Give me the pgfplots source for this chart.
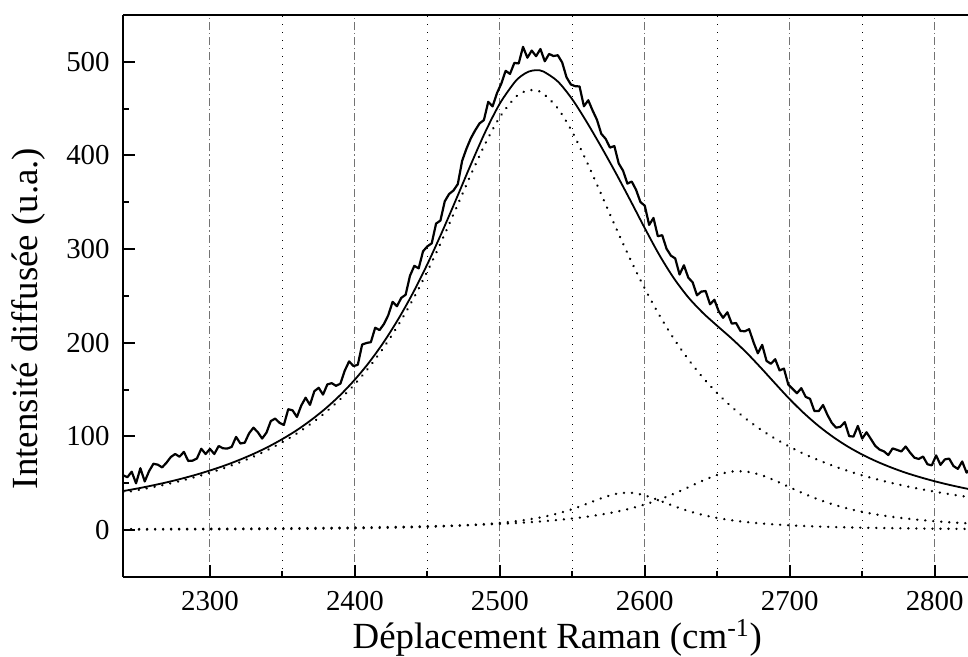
\documentclass[border=0pt]{standalone}
\usepackage{fontspec}
\setmainfont{Liberation Serif}
\usepackage{pgfplots}
\pgfplotsset{compat=1.18}

\definecolor{gridgray}{rgb}{0.45,0.45,0.45}

\begin{document}
\begin{tikzpicture}
\begin{axis}[
    scale only axis,
    width=422.5bp, height=281bp,
    xmin=2240, xmax=2823,
    ymin=-50, ymax=550,
    axis x line*=box,
    axis y line*=left,
    axis line style={line width=1bp},
    xtick={2300,2400,2500,2600,2700,2800},
    ytick={0,100,200,300,400,500},
    minor tick num=1,
    xtick pos=bottom,
    tick align=inside,
    major tick length=6bp,
    minor tick length=3bp,
    tick style={line width=1bp, black},
    xmajorgrids=true, xminorgrids=true,
    major grid style={gridgray, line width=0.5bp, dash pattern=on 4bp off 1.5bp on 0.6bp off 1.5bp},
    minor grid style={black, line width=0.5bp, dash pattern=on 0.6bp off 3.4bp},
    /pgf/number format/assume math mode=true,
    /pgf/number format/1000 sep={},
    tick label style={font=\fontsize{14.5}{16}\selectfont},
    xticklabel style={anchor=base, yshift=-17bp},
    yticklabel style={anchor=east, inner sep=0pt, xshift=-6.5bp},
    label style={font=\fontsize{18.5}{22}\selectfont},
    xlabel={Déplacement Raman (cm\textsuperscript{-1})},
    ylabel={Intensité diffusée (u.a.)},
    xlabel style={at={(rel axis cs:0.514,-0.1276)}, anchor=base},
    ylabel style={at={(rel axis cs:-0.1006,0.46)}, anchor=base, rotate=0},
    dotcurve/.style={black, line width=1.3bp, line cap=round, dash pattern=on 0.01bp off 4bp, smooth},
]
% measured spectrum
\addplot[black, line width=1.1bp, line join=round] coordinates {
(2240,58.7) (2243,56.5) (2246,62.4) (2249,50) (2252,66.1) (2255,52) (2258,63.0) (2261,70.9)
(2264,69.9) (2267,67.0) (2270,72) (2273,78.1) (2276,81.3) (2279,78.4) (2282,83.6) (2285,73.9)
(2288,74.2) (2291,76.5) (2294,86.9) (2297,81.3) (2300,86.7) (2303,81.3) (2306,89.8) (2309,87.4)
(2312,87.1) (2315,88.9) (2318,99.6) (2321,92.5) (2324,93.4) (2327,103.4) (2330,109.4) (2333,104.6)
(2336,97.8) (2339,104.1) (2342,116.5) (2345,119.1) (2348,114.6) (2351,112.3) (2354,129.1) (2357,127.9)
(2360,120.8) (2363,133.1) (2366,141.4) (2369,133.7) (2372,148.3) (2375,152) (2378,144.7) (2381,155.6)
(2384,156.9) (2387,154.1) (2390,156.4) (2393,170.3) (2396,180.2) (2399,175.2) (2402,176.5) (2405,198.2)
(2408,199.8) (2411,200.7) (2414,216.1) (2417,213.6) (2420,220) (2423,229.4) (2426,243.7) (2429,239.1)
(2432,248) (2435,251.3) (2438,271.6) (2441,282.2) (2444,279.5) (2447,297.7) (2450,303) (2453,306.2)
(2456,327.3) (2459,330.5) (2462,351.1) (2465,358.9) (2468,362.6) (2471,369.5) (2474,394.4) (2477,407.4)
(2480,418.4) (2483,426.9) (2486,434.3) (2489,437.8) (2492,457.3) (2495,452.4) (2498,466.5) (2501,476.7)
(2504,490.4) (2507,487.1) (2510,498.8) (2513,498.3) (2516,516) (2519,504.4) (2522,512) (2525,506)
(2528,513.7) (2531,500.6) (2534,508.4) (2537,506.2) (2540,507) (2543,499.3) (2546,483.5) (2549,475.8)
(2552,474) (2555,473.7) (2558,452.5) (2561,459) (2564,448) (2567,438.1) (2570,423.1) (2573,417.8)
(2576,408.4) (2579,410.1) (2582,391.5) (2585,383.8) (2588,370) (2591,372.2) (2594,363.3) (2597,350.3)
(2600,346.4) (2603,325.9) (2606,333.3) (2609,313.8) (2612,314.9) (2615,300.5) (2618,293.1) (2621,290.1)
(2624,272.9) (2627,282.8) (2630,269.6) (2633,264.6) (2636,250.7) (2639,254.7) (2642,255.3) (2645,241.1)
(2648,246) (2651,233.7) (2654,226.7) (2657,232.6) (2660,220.5) (2663,221.1) (2666,212.7) (2669,212.3)
(2672,214.5) (2675,200.7) (2678,188.8) (2681,197.8) (2684,180.7) (2687,177.6) (2690,182.5) (2693,170.5)
(2696,172.5) (2699,155.5) (2702,150.8) (2705,146.2) (2708,151.6) (2711,142.3) (2714,140.2) (2717,127.2)
(2720,127.1) (2723,133.6) (2726,123.1) (2729,114.6) (2732,109.4) (2735,110.4) (2738,115.3) (2741,100.4)
(2744,99.9) (2747,111.3) (2750,97.7) (2753,104.5) (2756,97.3) (2759,90) (2762,86) (2765,84.1)
(2768,80.2) (2771,87.3) (2774,85.7) (2777,84) (2780,89.3) (2783,82.9) (2786,77.4) (2789,76)
(2792,78.6) (2795,70.4) (2798,69.1) (2801,79.8) (2804,69.7) (2807,75.5) (2810,76.4) (2813,68.4)
(2816,65.4) (2819,73.3) (2822,61.4) (2825,66.0)
};
% total fit
\addplot[black, line width=0.9bp, smooth] coordinates {
(2240,41.7) (2250,44.5) (2260,47.6) (2270,51.0) (2280,54.8) (2290,59.0) (2300,63.7) (2310,68.9)
(2320,74.8) (2330,81.4) (2340,88.8) (2350,97.3) (2360,106.8) (2370,117.8) (2380,130.2) (2390,144.4)
(2400,160.8) (2410,179.5) (2420,201.0) (2430,225.5) (2440,253.1) (2450,284.0) (2460,317.9) (2470,353.8)
(2480,390.4) (2490,425.3) (2500,455.5) (2510,477.8) (2515,485.2) (2520,489.6) (2525,491.1) (2530,489.7)
(2540,479.0) (2550,459.9) (2560,435.6) (2570,409.1) (2580,381.3) (2590,352.2) (2600,322.4) (2610,293.9)
(2620,269.1) (2630,248.6) (2640,232.1) (2650,218.1) (2660,204.5) (2670,189.8) (2680,173.5) (2690,156.5)
(2700,139.8) (2710,124.6) (2720,111.1) (2730,99.4) (2740,89.3) (2750,80.7) (2760,73.3) (2770,66.9)
(2780,61.3) (2790,56.5) (2800,52.2) (2810,48.4) (2820,45.0) (2830,41.9)
};
% component 1
\addplot[dotcurve] coordinates {
(2240,40.0) (2250,42.7) (2260,45.7) (2270,49.0) (2280,52.7) (2290,56.8) (2300,61.3) (2310,66.4)
(2320,72.1) (2330,78.5) (2340,85.8) (2350,94.0) (2360,103.3) (2370,114.0) (2380,126.1) (2390,140.0)
(2400,156.0) (2410,174.3) (2420,195.3) (2430,219.2) (2440,246.2) (2450,276.3) (2460,309.3) (2470,344.2)
(2480,379.5) (2490,412.8) (2500,441.1) (2510,461.0) (2515,466.9) (2520,469.7) (2525,469.4) (2530,466.0)
(2540,450.3) (2550,425.0) (2560,393.2) (2570,358.4) (2580,323.1) (2590,289.2) (2600,257.9) (2610,229.6)
(2620,204.5) (2630,182.4) (2640,163.0) (2650,146.2) (2660,131.5) (2670,118.6) (2680,107.4) (2690,97.6)
(2700,89.0) (2710,81.3) (2720,74.6) (2730,68.6) (2740,63.3) (2750,58.5) (2760,54.3) (2770,50.5)
(2780,47.0) (2790,43.9) (2800,41.1) (2810,38.5) (2820,36.1) (2830,34.0)
};
% component 2
\addplot[dotcurve] coordinates {
(2240,0.60) (2250,0.64) (2260,0.68) (2270,0.72) (2280,0.77) (2290,0.82) (2300,0.87) (2310,0.94)
(2320,1.00) (2330,1.08) (2340,1.17) (2350,1.26) (2360,1.37) (2370,1.50) (2380,1.64) (2390,1.80)
(2400,1.99) (2410,2.21) (2420,2.46) (2430,2.76) (2440,3.11) (2450,3.54) (2460,4.06) (2470,4.69)
(2480,5.47) (2490,6.46) (2500,7.71) (2510,9.32) (2520,11.43) (2530,14.19) (2540,17.81) (2550,22.46)
(2560,28.09) (2570,34.04) (2580,38.66) (2590,39.96) (2600,37.11) (2610,31.70) (2620,25.74) (2630,20.47)
(2640,16.25) (2650,12.99) (2660,10.52) (2670,8.63) (2680,7.17) (2690,6.04) (2700,5.14) (2710,4.42)
(2720,3.84) (2730,3.36) (2740,2.96) (2750,2.63) (2760,2.35) (2770,2.12) (2780,1.91) (2790,1.73)
(2800,1.58) (2810,1.45) (2820,1.33) (2830,1.22)
};
% component 3
\addplot[dotcurve] coordinates {
(2240,1.11) (2250,1.17) (2260,1.22) (2270,1.29) (2280,1.35) (2290,1.42) (2300,1.50) (2310,1.58)
(2320,1.67) (2330,1.77) (2340,1.88) (2350,2.00) (2360,2.13) (2370,2.27) (2380,2.42) (2390,2.60)
(2400,2.79) (2410,3.00) (2420,3.24) (2430,3.50) (2440,3.80) (2450,4.14) (2460,4.52) (2470,4.96)
(2480,5.46) (2490,6.04) (2500,6.72) (2510,7.51) (2520,8.43) (2530,9.53) (2540,10.85) (2550,12.43)
(2560,14.34) (2570,16.68) (2580,19.54) (2590,23.07) (2600,27.39) (2610,32.62) (2620,38.81) (2630,45.75)
(2640,52.84) (2650,58.92) (2660,62.52) (2670,62.52) (2680,58.92) (2690,52.84) (2700,45.75) (2710,38.81)
(2720,32.62) (2730,27.39) (2740,23.07) (2750,19.54) (2760,16.68) (2770,14.34) (2780,12.43) (2790,10.85)
(2800,9.53) (2810,8.43) (2820,7.51) (2830,6.72)
};
\coordinate (bl) at (rel axis cs:0,0);
\coordinate (tr) at (rel axis cs:1,1);
\end{axis}
\pgfresetboundingbox
\path ([xshift=-61.5bp,yshift=-39.85bp]bl) rectangle ([yshift=7.5bp]tr);
\end{tikzpicture}
\end{document}
